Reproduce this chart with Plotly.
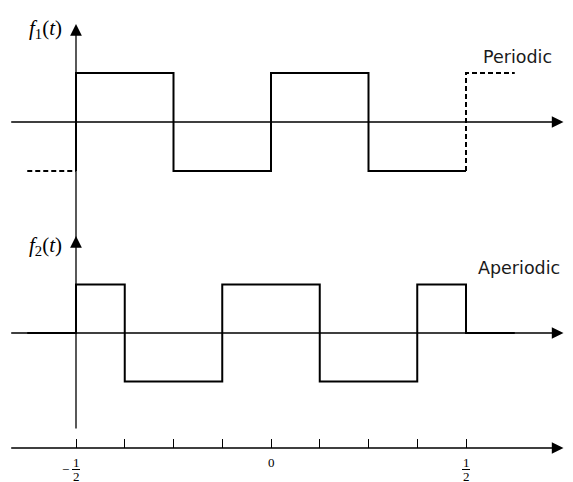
import plotly.graph_objects as go

# ---------------- data ----------------
# time-axis ticks (multiples of 1/8 between -1/2 and 1/2)
tick_t = [-0.5, -0.375, -0.25, -0.125, 0.0, 0.125, 0.25, 0.375, 0.5]
# tick labels: position, sign, numerator, denominator
label_t = [-0.5, 0.0, 0.5]
label_sign = ["−", "", ""]
label_num = ["1", "0", "1"]
label_den = ["2", "", "2"]

# f1(t): periodic square wave (solid part) -- step vertices
f1_t = [-0.5, -0.5, -0.25, 0.0, 0.25, 0.5]
f1_v = [-1, 1, -1, 1, -1, -1]
# periodic continuation (dashed)
f1_left_t = [-0.625, -0.5]
f1_left_v = [-1, -1]
f1_right_t = [0.5, 0.5, 0.625]
f1_right_v = [-1, 1, 1]

# f2(t): aperiodic signal -- step vertices
f2_t = [-0.625, -0.5, -0.375, -0.125, 0.125, 0.375, 0.5, 0.625]
f2_v = [0, 1, -1, 1, -1, 1, 0, 0]

# axis extents (in t / level units)
AX_T0, AX_T1 = -0.67, 0.75
ARROW_LEVEL = 2.0

# ---------------- layout geometry ----------------
W, H = 573, 482
PX_T0, PX_PER_T = 76, 390.0           # pixel of t=-1/2, pixels per unit t
x_range = [-0.5 - PX_T0 / PX_PER_T, -0.5 + (W - PX_T0) / PX_PER_T]


def yr(zero_px, unit_px):
    return [(zero_px - H) / unit_px, zero_px / unit_px]


Y1 = yr(122, 49.0)     # f1 panel
Y2 = yr(333, 48.5)     # f2 panel
Y3 = yr(448, 48.5)     # time axis

BLACK = "black"
fig = go.Figure()

line_solid = dict(color=BLACK, width=2, shape="hv")
line_dash = dict(color=BLACK, width=2, shape="hv", dash="5px,3px")

fig.add_trace(go.Scatter(x=f1_left_t, y=f1_left_v, mode="lines", line=line_dash,
                         yaxis="y", hoverinfo="skip"))
fig.add_trace(go.Scatter(x=f1_right_t, y=f1_right_v, mode="lines", line=line_dash,
                         yaxis="y", hoverinfo="skip"))
fig.add_trace(go.Scatter(x=f1_t, y=f1_v, mode="lines", line=line_solid,
                         yaxis="y", hoverinfo="skip"))
fig.add_trace(go.Scatter(x=f2_t, y=f2_v, mode="lines", line=line_solid,
                         yaxis="y2", hoverinfo="skip"))

annotations = []


def arrow(x, y, ax, ay, yref):
    annotations.append(dict(
        x=x, y=y, ax=ax, ay=ay, xref="x", yref=yref, axref="x", ayref=yref,
        text="", showarrow=True, arrowhead=2, arrowsize=1.8, arrowwidth=1.3,
        arrowcolor=BLACK, standoff=0, startstandoff=0))


# horizontal axes
for ref in ["y", "y2", "y3"]:
    arrow(AX_T1, 0, AX_T0, 0, ref)
# vertical axes at t = -1/2
arrow(-0.5, ARROW_LEVEL, -0.5, -2.5, "y")
arrow(-0.5, ARROW_LEVEL, -0.5, -2.0, "y2")

serif = "Liberation Serif, Times New Roman, serif"
sans = "DejaVu Sans, Arial, sans-serif"

# axis titles
annotations.append(dict(x=-0.5, y=ARROW_LEVEL, xref="x", yref="y", xanchor="right",
                        yanchor="middle", xshift=-12, yshift=-5, showarrow=False,
                        text="<i>f</i><sub>1</sub>(<i>t</i>)",
                        font=dict(family=serif, size=21, color=BLACK)))
annotations.append(dict(x=-0.5, y=ARROW_LEVEL, xref="x", yref="y2", xanchor="right",
                        yanchor="middle", xshift=-12, yshift=-10, showarrow=False,
                        text="<i>f</i><sub>2</sub>(<i>t</i>)",
                        font=dict(family=serif, size=21, color=BLACK)))

annotations.append(dict(x=0.633, y=1.33, xref="x", yref="y", showarrow=False,
                        text="Periodic", font=dict(family=sans, size=17.5, color="#1a1a1a")))
annotations.append(dict(x=0.636, y=1.34, xref="x", yref="y2", showarrow=False,
                        text="Aperiodic", font=dict(family=sans, size=17.5, color="#1a1a1a")))

shapes = []
tick_font = dict(family=serif, size=13, color=BLACK)
for t, s, n, d in zip(label_t, label_sign, label_num, label_den):
    annotations.append(dict(x=t, y=0, xref="x", yref="y3", showarrow=False,
                            yanchor="middle", yshift=-14, text=n, font=tick_font))
    if d:
        annotations.append(dict(x=t, y=0, xref="x", yref="y3", showarrow=False,
                                yanchor="middle", yshift=-28.5, text=d, font=tick_font))
        shapes.append(dict(type="line", xref="x", yref="y3",
                           xsizemode="pixel", xanchor=t, x0=-4, x1=4,
                           ysizemode="pixel", yanchor=0, y0=-21.5, y1=-21.5,
                           line=dict(color=BLACK, width=1)))
    if s:
        annotations.append(dict(x=t, y=0, xref="x", yref="y3", showarrow=False,
                                yanchor="middle", xshift=-11, yshift=-21.5, text=s,
                                font=tick_font))

fig.update_layout(
    width=W, height=H, autosize=False,
    margin=dict(l=0, r=0, t=0, b=0, pad=0),
    paper_bgcolor="white", plot_bgcolor="white",
    showlegend=False,
    xaxis=dict(range=x_range, anchor="free", position=1 - 448 / H,
               showgrid=False, zeroline=False, showline=False,
               ticks="inside", ticklen=9, tickwidth=1.3, tickcolor=BLACK,
               tickvals=tick_t, showticklabels=False, fixedrange=True),
    yaxis=dict(range=Y1, visible=False, fixedrange=True),
    yaxis2=dict(range=Y2, overlaying="y", visible=False, fixedrange=True),
    yaxis3=dict(range=Y3, overlaying="y", visible=False, fixedrange=True),
    annotations=annotations,
    shapes=shapes,
)

fig.write_html("out.html", config={"displayModeBar": False},
               post_script="document.body.style.margin='0';"
                           "document.body.style.overflow='hidden';")
